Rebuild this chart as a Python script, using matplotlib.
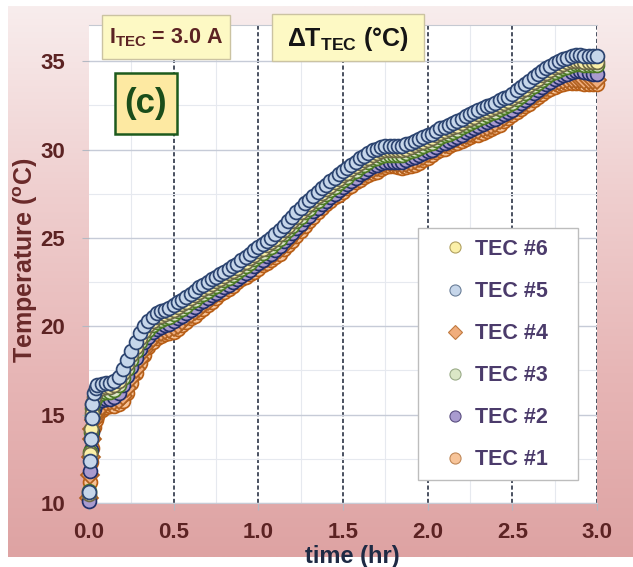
import numpy as np
import matplotlib
matplotlib.use("Agg")
import matplotlib.pyplot as plt
from matplotlib.lines import Line2D
from matplotlib.patches import Rectangle
from matplotlib.colors import LinearSegmentedColormap
from matplotlib.ticker import FormatStrFormatter, MultipleLocator

FONT = ['Liberation Sans', 'DejaVu Sans']
plt.rcParams['font.family'] = FONT
plt.rcParams['font.weight'] = 'bold'
plt.rcParams['mathtext.default'] = 'regular'

# sampling times (hr): dense at the start, then every 0.025 hr
time_hr = [0.0, 0.005, 0.01, 0.015, 0.02, 0.03, 0.04] + [round(0.05 + 0.025 * i, 3) for i in range(119)]

# temperatures (degC)
tec1 = [10.4, 11.2, 12.3, 13.1, 13.7, 14.3, 14.7,
        14.9, 15.25, 15.45, 15.5, 15.5, 15.6, 15.8, 16.25, 16.8, 17.35,
        17.9, 18.4, 18.8, 19.1, 19.35, 19.45, 19.55, 19.6, 19.7, 19.85,
        20.05, 20.25, 20.45, 20.6, 20.8, 21.0, 21.2, 21.4, 21.6, 21.8,
        21.95, 22.1, 22.3, 22.5, 22.65, 22.8, 22.95, 23.1, 23.25, 23.45,
        23.6, 23.75, 23.9, 24.1, 24.35, 24.6, 24.85, 25.1, 25.4, 25.7,
        25.95, 26.2, 26.45, 26.7, 26.9, 27.1, 27.3, 27.45, 27.6, 27.8,
        27.95, 28.15, 28.3, 28.45, 28.55, 28.65, 28.75, 28.9, 29.0, 29.05,
        29.05, 29.0, 28.95, 29.0, 29.05, 29.15, 29.25, 29.4, 29.55, 29.7,
        29.85, 29.95, 30.05, 30.2, 30.3, 30.4, 30.5, 30.6, 30.7, 30.8,
        30.85, 30.95, 31.05, 31.15, 31.25, 31.4, 31.6, 31.8, 31.95, 32.15,
        32.3, 32.45, 32.6, 32.8, 32.95, 33.15, 33.3, 33.45, 33.55, 33.65,
        33.7, 33.75, 33.75, 33.75, 33.75, 33.7, 33.7, 33.7, 33.7]
tec2 = [10.1, 11.8, 13.0, 14.0, 14.8, 15.3, 15.6,
        15.8, 15.85, 15.9, 15.9, 16.0, 16.25, 16.7, 17.2, 17.7, 18.2,
        18.7, 19.1, 19.4, 19.65, 19.85, 19.95, 20.05, 20.15, 20.3, 20.45,
        20.6, 20.75, 20.95, 21.1, 21.3, 21.45, 21.6, 21.75, 21.9, 22.05,
        22.2, 22.35, 22.5, 22.65, 22.85, 23.0, 23.2, 23.4, 23.6, 23.75,
        23.95, 24.1, 24.3, 24.55, 24.8, 25.05, 25.3, 25.55, 25.8, 26.05,
        26.25, 26.5, 26.7, 26.9, 27.1, 27.3, 27.5, 27.7, 27.9, 28.05,
        28.25, 28.4, 28.6, 28.75, 28.9, 29.05, 29.15, 29.25, 29.3, 29.3,
        29.3, 29.3, 29.3, 29.4, 29.5, 29.6, 29.7, 29.8, 29.9, 30.0,
        30.15, 30.3, 30.4, 30.5, 30.6, 30.7, 30.85, 31.0, 31.1, 31.2,
        31.35, 31.45, 31.55, 31.65, 31.75, 31.9, 32.0, 32.1, 32.25, 32.45,
        32.65, 32.8, 33.0, 33.2, 33.35, 33.55, 33.7, 33.85, 34.0, 34.1,
        34.2, 34.3, 34.4, 34.45, 34.45, 34.4, 34.35, 34.3, 34.3]
tec3 = [10.7, 12.9, 14.0, 14.9, 15.4, 15.8, 16.0,
        16.2, 16.25, 16.3, 16.3, 16.4, 16.65, 17.1, 17.6, 18.1, 18.6,
        19.1, 19.5, 19.8, 20.05, 20.25, 20.35, 20.45, 20.55, 20.7, 20.85,
        21.0, 21.15, 21.35, 21.5, 21.7, 21.85, 22.0, 22.15, 22.3, 22.45,
        22.6, 22.75, 22.9, 23.05, 23.25, 23.4, 23.6, 23.8, 24.0, 24.15,
        24.35, 24.5, 24.7, 24.95, 25.2, 25.45, 25.7, 25.95, 26.2, 26.45,
        26.65, 26.9, 27.1, 27.3, 27.5, 27.7, 27.9, 28.1, 28.3, 28.45,
        28.65, 28.8, 29.0, 29.15, 29.3, 29.45, 29.55, 29.65, 29.7, 29.7,
        29.7, 29.7, 29.7, 29.8, 29.9, 30.0, 30.1, 30.2, 30.3, 30.4,
        30.55, 30.7, 30.8, 30.9, 31.0, 31.1, 31.25, 31.4, 31.5, 31.6,
        31.75, 31.85, 31.95, 32.05, 32.15, 32.3, 32.4, 32.5, 32.65, 32.85,
        33.05, 33.2, 33.4, 33.6, 33.75, 33.95, 34.1, 34.25, 34.4, 34.5,
        34.6, 34.7, 34.8, 34.85, 34.85, 34.8, 34.8, 34.8, 34.8]
tec4 = [10.3, 11.6, 12.6, 13.6, 14.2, 14.7, 15.0,
        15.15, 15.5, 15.7, 15.75, 15.75, 15.85, 16.05, 16.5, 17.05, 17.6,
        18.15, 18.65, 19.05, 19.35, 19.6, 19.7, 19.8, 19.85, 19.95, 20.1,
        20.3, 20.5, 20.7, 20.85, 21.05, 21.25, 21.45, 21.65, 21.85, 22.05,
        22.2, 22.35, 22.55, 22.75, 22.9, 23.05, 23.2, 23.35, 23.5, 23.7,
        23.85, 24.0, 24.15, 24.35, 24.6, 24.85, 25.1, 25.35, 25.65, 25.95,
        26.2, 26.45, 26.7, 26.95, 27.15, 27.35, 27.55, 27.7, 27.85, 28.05,
        28.2, 28.4, 28.55, 28.7, 28.8, 28.9, 29.0, 29.15, 29.25, 29.3,
        29.3, 29.25, 29.2, 29.25, 29.3, 29.4, 29.5, 29.65, 29.8, 29.95,
        30.1, 30.2, 30.3, 30.45, 30.55, 30.65, 30.75, 30.85, 30.95, 31.05,
        31.1, 31.2, 31.3, 31.4, 31.5, 31.65, 31.85, 32.05, 32.2, 32.4,
        32.55, 32.7, 32.85, 33.05, 33.2, 33.4, 33.55, 33.7, 33.8, 33.9,
        33.95, 34.0, 34.0, 34.0, 34.0, 33.95, 33.95, 33.95, 33.95]
tec5 = [10.6, 12.4, 13.6, 14.8, 15.6, 16.2, 16.5,
        16.7, 16.75, 16.8, 16.8, 16.9, 17.15, 17.6, 18.1, 18.6, 19.1,
        19.6, 20.0, 20.3, 20.55, 20.75, 20.85, 20.95, 21.05, 21.2, 21.35,
        21.5, 21.65, 21.85, 22.0, 22.2, 22.35, 22.5, 22.65, 22.8, 22.95,
        23.1, 23.25, 23.4, 23.55, 23.75, 23.9, 24.1, 24.3, 24.5, 24.65,
        24.85, 25.0, 25.2, 25.45, 25.7, 25.95, 26.2, 26.45, 26.7, 26.95,
        27.15, 27.4, 27.6, 27.8, 28.0, 28.2, 28.4, 28.6, 28.8, 28.95,
        29.15, 29.3, 29.5, 29.65, 29.8, 29.95, 30.05, 30.15, 30.2, 30.2,
        30.2, 30.2, 30.2, 30.3, 30.4, 30.5, 30.6, 30.7, 30.8, 30.9,
        31.05, 31.2, 31.3, 31.4, 31.5, 31.6, 31.75, 31.9, 32.0, 32.1,
        32.25, 32.35, 32.45, 32.55, 32.65, 32.8, 32.9, 33.0, 33.15, 33.35,
        33.55, 33.7, 33.9, 34.1, 34.25, 34.45, 34.6, 34.75, 34.9, 35.0,
        35.1, 35.2, 35.3, 35.35, 35.35, 35.3, 35.3, 35.3, 35.3]
tec6 = [10.5, 12.8, 14.2, 15.1, 15.6, 16.0, 16.3,
        16.45, 16.5, 16.55, 16.55, 16.65, 16.9, 17.35, 17.85, 18.35, 18.85,
        19.35, 19.75, 20.05, 20.3, 20.5, 20.6, 20.7, 20.8, 20.95, 21.1,
        21.25, 21.4, 21.6, 21.75, 21.95, 22.1, 22.25, 22.4, 22.55, 22.7,
        22.85, 23.0, 23.15, 23.3, 23.5, 23.65, 23.85, 24.05, 24.25, 24.4,
        24.6, 24.75, 24.95, 25.2, 25.45, 25.7, 25.95, 26.2, 26.45, 26.7,
        26.9, 27.15, 27.35, 27.55, 27.75, 27.95, 28.15, 28.35, 28.55, 28.7,
        28.9, 29.05, 29.25, 29.4, 29.55, 29.7, 29.8, 29.9, 29.95, 29.95,
        29.95, 29.95, 29.95, 30.05, 30.15, 30.25, 30.35, 30.45, 30.55, 30.65,
        30.8, 30.95, 31.05, 31.15, 31.25, 31.35, 31.5, 31.65, 31.75, 31.85,
        32.0, 32.1, 32.2, 32.3, 32.4, 32.55, 32.65, 32.75, 32.9, 33.1,
        33.3, 33.45, 33.65, 33.85, 34.0, 34.2, 34.35, 34.5, 34.65, 34.75,
        34.85, 34.95, 35.0, 35.0, 35.0, 34.95, 34.95, 34.95, 34.95]

labels = ['TEC #6', 'TEC #5', 'TEC #4', 'TEC #3', 'TEC #2', 'TEC #1']
series = {'TEC #1': tec1, 'TEC #2': tec2, 'TEC #3': tec3,
          'TEC #4': tec4, 'TEC #5': tec5, 'TEC #6': tec6}
# marker, face, edge (plot), edge (legend)
styles = {
    'TEC #6': ('o', '#fbf0a8', '#6e6a48', '#b0a060'),
    'TEC #5': ('o', '#c6d6ea', '#2c4470', '#6a7e98'),
    'TEC #4': ('D', '#f0ad7c', '#b0601f', '#c07a40'),
    'TEC #3': ('o', '#dbe7c6', '#4c7a26', '#9aab88'),
    'TEC #2': ('o', '#a99bcf', '#22306a', '#5a4e80'),
    'TEC #1': ('o', '#f7c499', '#b85e16', '#c08858'),
}
draw_order = ['TEC #1', 'TEC #4', 'TEC #2', 'TEC #3', 'TEC #6', 'TEC #5']

fig = plt.figure(figsize=(6.33, 5.67), dpi=100)

# pink gradient panel behind everything
bg = fig.add_axes([8 / 633, 10 / 567, 625 / 633, 551 / 567], zorder=-10)
grad = np.linspace(0, 1, 256)[:, None]
cmap = LinearSegmentedColormap.from_list('bg', ['#f8eded', '#efcfcf', '#e7b6b6', '#dea3a3'])
bg.imshow(grad, aspect='auto', cmap=cmap, extent=[0, 1, 0, 1], origin='upper')
bg.axis('off')

ax = fig.add_axes([89 / 633, 64 / 567, 508 / 633, 478 / 567])
ax.set_facecolor('white')
ax.set_xlim(0, 3.0)
ax.set_ylim(10, 37.05)

# grid
ax.xaxis.set_minor_locator(MultipleLocator(0.25))
ax.yaxis.set_minor_locator(MultipleLocator(2.5))
ax.xaxis.set_major_locator(MultipleLocator(0.5))
ax.yaxis.set_major_locator(MultipleLocator(5))
ax.grid(True, which='minor', color='#e6e9ef', lw=0.8, zorder=0)
ax.yaxis.grid(True, which='major', color='#c6cbd7', lw=1.0, zorder=0)
for xv in np.arange(0.5, 3.01, 0.5):
    ax.axvline(xv, color='#2b3446', lw=1.2, ls=(0, (2.5, 1.5)), zorder=0.5)
ax.set_axisbelow(True)

for name in draw_order:
    m, fc, ec, _ = styles[name]
    ms = 9 if m == 'D' else 10
    ax.plot(time_hr, series[name], ls='none', marker=m, ms=ms, mfc=fc, mec=ec,
            mew=1.25, clip_on=False, zorder=3)

for s in ['left', 'right']:
    ax.spines[s].set_visible(False)
ax.spines['top'].set_color('#c5c9d2')
ax.spines['bottom'].set_color('#c8ccd6')

ax.xaxis.set_major_formatter(FormatStrFormatter('%.1f'))
ax.tick_params(axis='both', which='major', length=5, color='#b4b8c2',
               labelcolor='#5c2323')
ax.tick_params(axis='x', which='major', labelsize=16, pad=9)
ax.tick_params(axis='y', which='major', labelsize=16, pad=12)
ax.tick_params(axis='both', which='minor', length=0)

ax.set_ylabel('Temperature ($^{o}$C)', fontsize=18, fontweight='bold', color='#6a2a2a')
ax.yaxis.set_label_coords(-0.096, 0.508)
ax.set_xlabel('time (hr)', fontsize=17, fontweight='bold', color='#1e2a44', va='top')
ax.xaxis.set_label_coords(0.518, -0.087)

# legend: frame drawn separately, entries placed inside it
ax.add_patch(Rectangle(((418 - 89) / 508, (503 - 480) / 478), 160 / 508, 252 / 478,
                       transform=ax.transAxes, facecolor='white', edgecolor='#bdbdbd',
                       lw=1.0, zorder=4, clip_on=False))
handles = []
for name in labels:
    m, fc, _, lec = styles[name]
    handles.append(Line2D([], [], ls='none', marker=m, ms=8 if m == 'o' else 7,
                          mfc=fc, mec=lec, mew=0.8))
leg = ax.legend(handles, labels, loc='upper left',
                bbox_to_anchor=((444 - 89) / 508, (503 - 239) / 478),
                borderaxespad=0, borderpad=0, frameon=False,
                prop=dict(family=FONT, weight='bold', size=15.5),
                labelspacing=0.98, handletextpad=0.43,
                handlelength=1.0, labelcolor='#4b3b6b')
leg.set_zorder(5)

# annotation boxes
def box(x0, y0, x1, y1, fc, ec, lw):
    fig.add_artist(Rectangle((x0 / 633, 1 - y1 / 567), (x1 - x0) / 633, (y1 - y0) / 567,
                             transform=fig.transFigure, facecolor=fc, edgecolor=ec,
                             lw=lw, zorder=4))

box(102, 15, 230, 59, '#fdf9c4', '#cbc3a2', 1.0)
fig.text(166 / 633, 1 - 38 / 567, 'I$_{TEC}$ = 3.0 A', ha='center', va='center',
         fontsize=15.5, color='#5c2323', zorder=6)
box(272, 14, 424, 61, '#fdf9c4', '#cbc3a2', 1.0)
fig.text(348 / 633, 1 - 39 / 567, '\u0394T$_{TEC}$ (\u00b0C)', ha='center', va='center',
         fontsize=18, color='#151515', zorder=6)
box(115, 73, 177, 134, '#fde9a2', '#1d5a1d', 1.8)
fig.text(146 / 633, 1 - 104 / 567, '(c)', ha='center', va='center',
         fontsize=25, color='#1a4d1a', zorder=6)

fig.savefig('out.png', dpi=100)
